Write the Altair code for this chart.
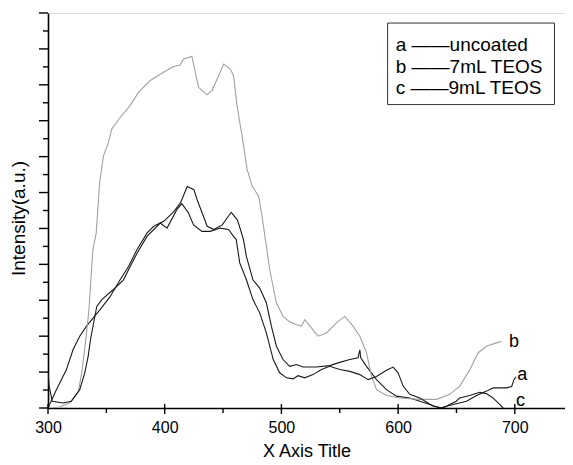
import altair as alt
import pandas as pd

# ---- data ----
b_x = [300, 302, 310, 319, 326, 329, 332, 335, 338.4, 341.3, 344.2, 347.5, 351.8, 354.7, 361.8,
       370.4, 377.5, 387.6, 399, 407.6, 413.3, 416.1, 423.3, 429, 436.2, 440.5, 446.2, 450.5,
       456.2, 459, 462, 464.8, 466.3, 470.6, 474.9, 480.5, 483.4, 486.3, 490, 495.7, 501.4,
       507, 512.9, 517.2, 520, 525.7, 531.4, 538.6, 547.2, 554.3, 561.4, 567.2, 572.9, 577.2,
       581.5, 590.1, 601.5, 618.6, 632.9, 644.3, 652.9, 661.5, 668.6, 675.8, 682.9, 688.6]
b_y = [0, 0, 0.03, 0.15, 0.45, 1.0, 1.8, 2.7, 4.4, 4.87, 6.26, 7.02, 7.39, 7.77, 8.09,
       8.42, 8.79, 9.12, 9.35, 9.51, 9.55, 9.72, 9.79, 8.93, 8.72, 8.84, 9.25, 9.58,
       9.44, 9.25, 8.42, 7.86, 7.58, 6.65, 6.18, 5.9, 5.34, 4.69, 3.85, 2.93, 2.55,
       2.4, 2.32, 2.28, 2.46, 2.23, 2.0, 2.09, 2.37, 2.55, 2.28, 2.0, 1.54, 0.88,
       0.51, 0.35, 0.28, 0.24, 0.24, 0.38, 0.61, 1.07, 1.54, 1.72, 1.8, 1.86]

a_x = [300, 307.2, 315.8, 321.5, 327.2, 333, 344.6, 353.2, 361.8, 369, 376.2, 384.8,
       390.6, 399.2, 407.8, 413.5, 419.3, 425, 427.8, 432.1, 436.4, 442.1, 449.3, 457,
       462.2, 464.9, 467.5, 470, 475.6, 481.4, 487.1, 491.4, 495.7, 501.4, 507.1, 512.9,
       518.5, 530, 541.4, 550, 558.6, 565.7, 567.2, 568, 572.9, 581.5, 590, 598.6, 610,
       618.6, 627.2, 635.8, 647.2, 658.6, 667.2, 675.8, 681.5, 693, 697.3, 699.3, 701]
a_y = [0, 0.51, 1.07, 1.63, 2.0, 2.28, 2.74, 3.1, 3.57, 3.94, 4.41, 4.87,
       5.06, 5.2, 5.47, 5.71, 6.17, 6.08, 5.8, 5.43, 5.06, 4.97, 5.1, 5.45,
       5.24, 4.97, 4.69, 4.22, 3.57, 3.34, 2.93, 2.28, 1.72, 1.35, 1.16, 1.21,
       1.14, 1.14, 1.18, 1.27, 1.35, 1.4, 1.62, 1.4, 1.16, 0.79, 0.51, 0.33, 0.28,
       0.19, 0.1, 0.0, 0.1, 0.19, 0.35, 0.47, 0.56, 0.56, 0.6, 0.79, 0.87]

c_x = [300, 301, 303.6, 312.9, 320, 327.2, 331.5, 334.4, 336.4, 338.1, 341.8, 346.1,
       356.1, 364.7, 370.4, 376.2, 384.8, 396.2, 402, 410.5, 414.7, 420.4, 424.7, 431.9,
       439, 447.6, 454.7, 459, 461.3, 464.3, 470, 475.6, 481.4, 487.1, 493, 498.5, 504.3,
       510, 514.2, 520, 527.1, 534.3, 541.4, 550, 558.6, 567.2, 574.3, 581.5, 590, 595.7,
       600, 604.3, 610, 618.6, 630.2, 638.8, 644.1, 649.9, 652.7, 661.3, 669.9, 675.6,
       681.3, 687, 690]
c_y = [1.0, 0.6, 0.19, 0.14, 0.19, 0.51, 0.98, 1.44, 1.9, 2.2, 2.83, 3.02,
       3.3, 3.57, 3.94, 4.3, 4.78, 5.15, 5.01, 5.53, 5.69, 5.43, 5.1, 4.92,
       4.92, 5.01, 4.97, 4.78, 4.69, 4.04, 3.57, 3.02, 2.65, 2.09, 1.35, 0.98, 0.84,
       0.81, 0.9, 0.84, 0.93, 1.07, 1.16, 1.07, 1.02, 0.93, 0.79, 0.88, 1.05, 1.14,
       0.98, 0.61, 0.38, 0.28, 0.05, 0.0, 0.1, 0.19, 0.28, 0.35, 0.44, 0.4,
       0.28, 0.1, 0.0]

series_names = ["a", "b", "c"]
series_colors = ["#1a1a1a", "#a0a0a0", "#1a1a1a"]

end_label_text = ["a", "b", "c"]
end_label_x = [702, 695, 701]
end_label_y = [0.92, 1.85, 0.2]

legend_lines = ["a \u2014\u2014uncoated", "b \u2014\u20147mL TEOS", "c \u2014\u20149mL TEOS"]
legend_line_x = [598, 598, 598]
legend_line_y = [10.1, 9.5, 8.9]
legend_box = {"x": [591], "x2": [734], "y": [8.45], "y2": [10.72]}

x_labels = [300, 400, 500, 600, 700]
x_major_ticks = [300, 400, 500, 600, 700]
x_minor_ticks = [350, 450, 550, 650]
y_major_ticks = list(range(0, 12))
y_minor_ticks = [i + 0.5 for i in range(11)]

FONT = "Liberation Sans"

rows = []
for name, xs, ys in [("a", a_x, a_y), ("b", b_x, b_y), ("c", c_x, c_y)]:
    for i, (xv, yv) in enumerate(zip(xs, ys)):
        rows.append({"series": name, "x": xv, "y": yv, "idx": i})
df = pd.DataFrame(rows)

xscale = alt.Scale(domain=[300, 743], nice=False, zero=False)
yscale = alt.Scale(domain=[0, 11], nice=False, zero=True)

lines = alt.Chart(df).mark_line(strokeWidth=1.1, clip=True).encode(
    x=alt.X("x:Q", scale=xscale, title="X Axis Title",
            axis=alt.Axis(values=x_labels, grid=False, domainColor="black", domainWidth=1.6,
                          ticks=False, labelOverlap=False,
                          labelFont=FONT, labelFontSize=16, labelColor="black", labelPadding=11,
                          labelFlush=False,
                          titleFont=FONT, titleFontSize=18, titleFontWeight="normal",
                          titleColor="black", titlePadding=7)),
    y=alt.Y("y:Q", scale=yscale, title="Intensity(a.u.)",
            axis=alt.Axis(grid=False, labels=False, ticks=False,
                          domainColor="black", domainWidth=1.6,
                          titleFont=FONT, titleFontSize=19, titleFontWeight="normal",
                          titleColor="black", titlePadding=20, titleY=205)),
    color=alt.Color("series:N", scale=alt.Scale(domain=series_names, range=series_colors), legend=None),
    detail="series:N",
    order=alt.Order("idx:Q"),
)

# y-axis ticks (outward, left of the axis)
ymaj = alt.Chart(pd.DataFrame({"v": y_major_ticks, "x0": [300] * len(y_major_ticks)})).mark_tick(
    orient="horizontal", size=9, thickness=1.4, color="black", xOffset=-4.5, opacity=1).encode(
    x=alt.X("x0:Q", scale=xscale), y=alt.Y("v:Q", scale=yscale))
ymin = alt.Chart(pd.DataFrame({"v": y_minor_ticks, "x0": [300] * len(y_minor_ticks)})).mark_tick(
    orient="horizontal", size=5, thickness=1.4, color="black", xOffset=-2.5, opacity=1).encode(
    x=alt.X("x0:Q", scale=xscale), y=alt.Y("v:Q", scale=yscale))
# x-axis ticks
xmaj = alt.Chart(pd.DataFrame({"v": x_major_ticks, "y0": [0] * len(x_major_ticks)})).mark_tick(
    orient="vertical", size=10, thickness=1.4, color="black", yOffset=1, opacity=1).encode(
    x=alt.X("v:Q", scale=xscale), y=alt.Y("y0:Q", scale=yscale))
xmin = alt.Chart(pd.DataFrame({"v": x_minor_ticks, "y0": [0] * len(x_minor_ticks)})).mark_tick(
    orient="vertical", size=5, thickness=1.4, color="black", yOffset=2.5, opacity=1).encode(
    x=alt.X("v:Q", scale=xscale), y=alt.Y("y0:Q", scale=yscale))

labels_df = pd.DataFrame({"t": end_label_text, "x": end_label_x, "y": end_label_y})
end_labels = alt.Chart(labels_df).mark_text(align="left", baseline="middle", font=FONT,
                                            fontSize=18, color="black").encode(
    x=alt.X("x:Q", scale=xscale), y=alt.Y("y:Q", scale=yscale), text="t:N")

box_df = pd.DataFrame(legend_box)
box = alt.Chart(box_df).mark_rect(fill="white", stroke="#333333", strokeWidth=1).encode(
    x=alt.X("x:Q", scale=xscale), x2="x2:Q", y=alt.Y("y:Q", scale=yscale), y2="y2:Q")

leg_df = pd.DataFrame({"t": legend_lines, "x": legend_line_x, "y": legend_line_y})
leg_text = alt.Chart(leg_df).mark_text(align="left", baseline="middle", font=FONT,
                                       fontSize=19, color="black").encode(
    x=alt.X("x:Q", scale=xscale), y=alt.Y("y:Q", scale=yscale), text="t:N")

chart = alt.layer(lines, ymaj, ymin, xmaj, xmin, end_labels, box, leg_text).properties(
    width=517, height=395,
    autosize=alt.AutoSizeParams(type="none"),
    padding={"left": 40, "top": 5, "right": 0, "bottom": 51},
).configure_view(stroke=None).configure(background="white")

chart.save("out.html", embed_options={"renderer": "svg", "actions": False})
